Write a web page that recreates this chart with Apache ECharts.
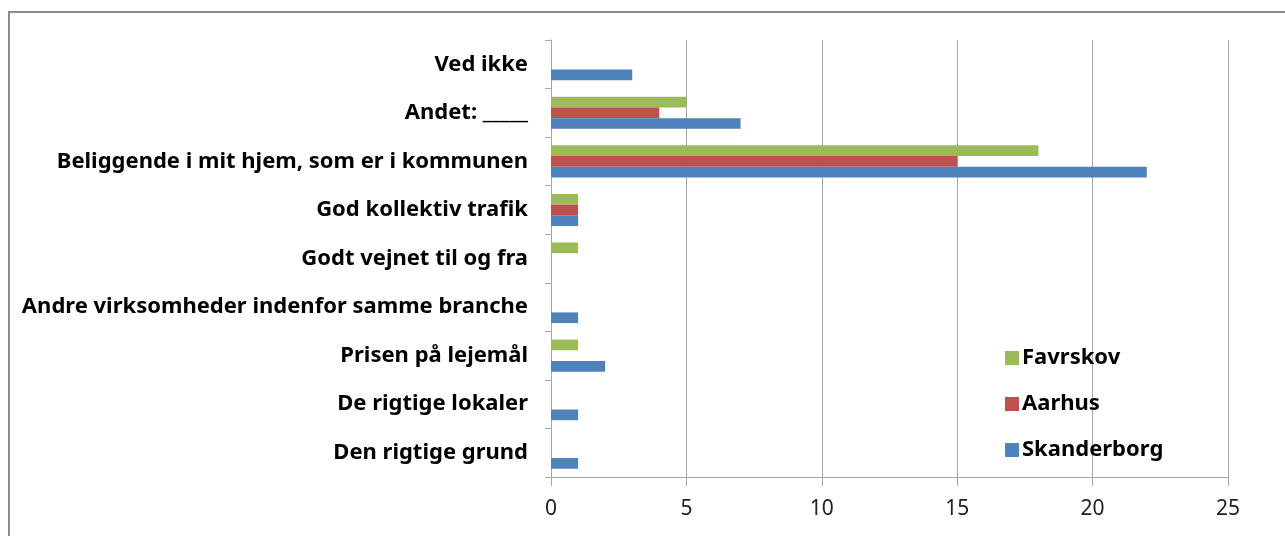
<!DOCTYPE html>
<html>
<head>
<meta charset="utf-8">
<script src="https://cdn.jsdelivr.net/npm/echarts@6/dist/echarts.min.js"></script>
<style>
  html, body { margin: 0; padding: 0; background: #fff; }
  #chart { width: 1285px; height: 536px; }
</style>
</head>
<body>
<div id="chart"></div>
<script>
// categories from bottom to top
const categories = [
  'Den rigtige grund',
  'De rigtige lokaler',
  'Prisen på lejemål',
  'Andre virksomheder indenfor samme branche',
  'Godt vejnet til og fra',
  'God kollektiv trafik',
  'Beliggende i mit hjem, som er i kommunen',
  'Andet: _____',
  'Ved ikke'
];
const skanderborg = [1, 1, 2, 1, 0, 1, 22, 7, 3];
const aarhus      = [0, 0, 0, 0, 0, 1, 15, 4, 0];
const favrskov    = [0, 0, 1, 0, 1, 1, 18, 5, 0];
const legendOrder = ['Favrskov', 'Aarhus', 'Skanderborg'];

const font = '"Noto Sans", Lato, sans-serif';
const gridGrey = '#a6a6a6';

const chart = echarts.init(document.getElementById('chart'));
const bar = (name, data, color) => ({
  name: name,
  type: 'bar',
  data: data,
  barGap: '0%',
  barCategoryGap: '34%',
  itemStyle: { color: color },
  emphasis: { disabled: true }
});

chart.setOption({
  animation: false,
  graphic: [{
    type: 'rect',
    shape: { x: 9, y: 12, width: 1300, height: 560 },
    style: { fill: 'none', stroke: '#8c8c8c', lineWidth: 2 },
    silent: true
  }],
  grid: { left: 551, right: 57, top: 40, bottom: 59, containLabel: false },
  legend: {
    orient: 'vertical',
    left: 1000,
    top: 342,
    data: legendOrder,
    itemWidth: 14,
    itemHeight: 14,
    itemGap: 24,
    icon: 'rect',
    textStyle: { fontFamily: font, fontWeight: 'bold', fontSize: 22, color: '#000', padding: [0, 0, 0, -2] }
  },
  xAxis: {
    type: 'value',
    min: 0,
    max: 25,
    interval: 5,
    axisLine: { show: true, lineStyle: { color: gridGrey } },
    axisTick: { show: true, length: 9, lineStyle: { color: gridGrey } },
    axisLabel: { fontFamily: font, fontSize: 21, color: '#222', margin: 22 },
    splitLine: { show: true, lineStyle: { color: gridGrey, width: 1 } }
  },
  yAxis: {
    type: 'category',
    data: categories,
    axisLine: { show: true, lineStyle: { color: gridGrey } },
    axisTick: { show: true, length: 6, lineStyle: { color: gridGrey } },
    axisLabel: { fontFamily: font, fontWeight: 'bold', fontSize: 22, color: '#000', margin: 23 }
  },
  series: [
    bar('Favrskov', favrskov, '#9bbb59'),
    bar('Aarhus', aarhus, '#c0504d'),
    bar('Skanderborg', skanderborg, '#4f81bd')
  ]
});
</script>
</body>
</html>
